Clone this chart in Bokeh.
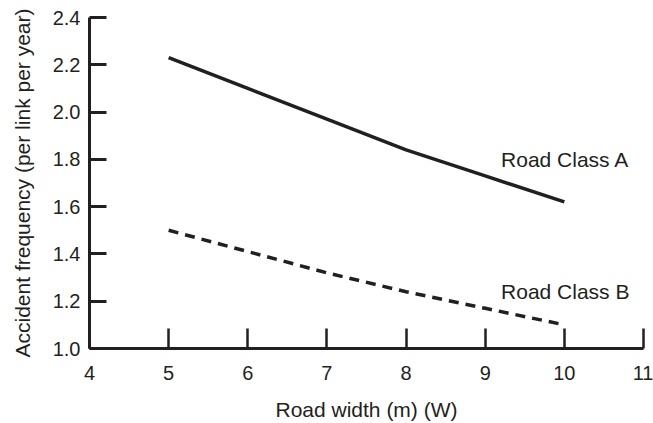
from bokeh.plotting import figure
from bokeh.models import Range1d, FixedTicker, CustomJSTickFormatter
from bokeh.embed import file_html
from bokeh.resources import INLINE
from bokeh.core.properties import value

# Data
road_width = [5, 6, 7, 8, 9, 10]
class_a = [2.23, 2.10, 1.97, 1.84, 1.73, 1.62]
class_b = [1.50, 1.41, 1.32, 1.24, 1.17, 1.10]
labels = ["Road Class A", "Road Class B"]
label_x = [9.2, 9.2]
label_y = [1.80, 1.24]
x_ticks = [4, 5, 6, 7, 8, 9, 10, 11]
y_ticks = [1.0, 1.2, 1.4, 1.6, 1.8, 2.0, 2.2, 2.4]

INK = "#231f20"
FONT = "Liberation Sans"

p = figure(width=653, height=423, output_backend="svg", toolbar_location=None,
           x_range=Range1d(4, 11), y_range=Range1d(1.0, 2.4),
           min_border_left=89, min_border_right=10, min_border_top=17, min_border_bottom=73)
p.outline_line_color = None
p.grid.visible = False
p.background_fill_color = "white"
p.border_fill_color = "white"

p.line(road_width, class_a, line_color=INK, line_width=3.5)
p.line(road_width, class_b, line_color=INK, line_width=3.5, line_dash="10 7")
p.text(label_x, label_y, text=labels, text_font=value(FONT), text_font_size="21px",
       text_color=INK, text_align="left", text_baseline="middle")

xa = p.xaxis[0]
ya = p.yaxis[0]
xa.ticker = FixedTicker(ticks=x_ticks)
ya.ticker = FixedTicker(ticks=y_ticks)
ya.formatter = CustomJSTickFormatter(code="return tick.toFixed(1);")

for ax in (xa, ya):
    ax.axis_line_color = INK
    ax.axis_line_width = 3
    ax.major_tick_line_color = INK
    ax.major_tick_out = 0
    ax.minor_tick_line_color = None
    ax.major_label_text_font = FONT
    ax.major_label_text_font_size = "20px"
    ax.major_label_text_color = INK
    ax.axis_label_text_font = FONT
    ax.axis_label_text_font_size = "21px"
    ax.axis_label_text_font_style = "normal"
    ax.axis_label_text_color = INK

xa.major_tick_in = 20
xa.major_tick_line_width = 2.5
ya.major_tick_in = 17
ya.major_tick_line_width = 3
xa.major_label_standoff = 17
ya.major_label_standoff = 9
xa.axis_label = "Road width (m) (W)"
ya.axis_label = "Accident frequency (per link per year)"
xa.axis_label_standoff = 15
ya.axis_label_standoff = 16

open("out.html", "w").write(file_html(p, INLINE))
